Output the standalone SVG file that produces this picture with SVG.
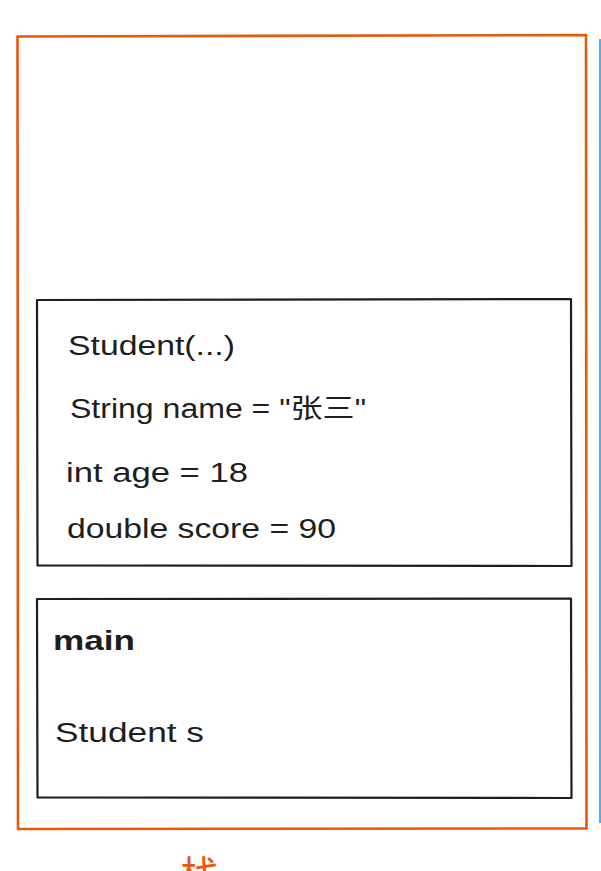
<svg xmlns="http://www.w3.org/2000/svg" width="601" height="871" viewBox="0 0 601 871">
<style>
.box{fill:none;stroke:#1e1e1e;stroke-width:2.2;stroke-linejoin:round}
.t{font-family:"Liberation Sans","Noto Sans CJK SC",sans-serif;font-size:27px;fill:#1e1e1e}
</style>
<rect width="601" height="871" fill="#ffffff"/>
<g id="stack-frame">
<path d="M17.5 36.5 L586 35 L586.5 828.5 L18 829 Z" fill="none" stroke="#e8590c" stroke-width="2.6" stroke-linejoin="round"/>
<text x="200" y="890" text-anchor="middle" font-family="'Noto Sans CJK SC',sans-serif" font-size="40" fill="#e8590c">栈</text>
</g>
<g id="heap-edge">
<line x1="600" y1="39" x2="600" y2="823" stroke="#4dabf7" stroke-width="2"/>
</g>
<g id="constructor-frame">
<path class="box" d="M37 300 L571 299 L571.5 566 L37.5 565.5 Z"/>
<text class="t" x="68" y="355" textLength="167" lengthAdjust="spacingAndGlyphs">Student(...)</text>
<text class="t" x="70" y="418" textLength="296" lengthAdjust="spacingAndGlyphs">String name = "张三"</text>
<text class="t" x="66" y="482" textLength="182" lengthAdjust="spacingAndGlyphs">int age = 18</text>
<text class="t" x="67" y="538" textLength="269" lengthAdjust="spacingAndGlyphs">double score = 90</text>
</g>
<g id="main-frame">
<path class="box" d="M37 599 L571 598.5 L571.5 798 L37.5 797.5 Z"/>
<text class="t" x="53" y="650" font-size="32" font-weight="bold" textLength="82" lengthAdjust="spacingAndGlyphs">main</text>
<text class="t" x="55" y="742" textLength="149" lengthAdjust="spacingAndGlyphs">Student s</text>
</g>
<g id="connectors"/>
</svg>
